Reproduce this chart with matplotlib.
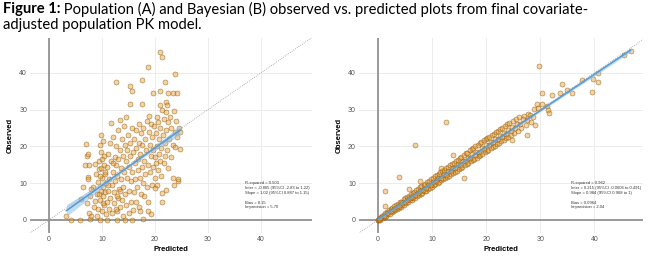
import numpy as np
import matplotlib
matplotlib.use("Agg")
import matplotlib.pyplot as plt

# ---- data ----
# panel A (population): predicted / observed
pred_a = [3.3, 4.2, 5.9, 6.0, 6.5, 6.7, 7.0, 7.1, 7.4, 7.3,
          7.4, 7.6, 7.7, 7.5, 7.2, 7.8, 8.3, 8.0, 7.9, 8.4,
          8.6, 8.8, 8.7, 9.0, 9.2, 9.1, 9.3, 9.4, 9.5, 9.6,
          9.7, 9.8, 9.9, 9.6, 9.8, 9.9, 10.0, 10.0, 10.1, 10.2,
          10.3, 10.3, 10.4, 10.5, 10.6, 10.2, 10.7, 10.8, 10.9, 11.0,
          11.0, 11.1, 11.2, 11.3, 11.4, 11.5, 11.5, 11.6, 11.7, 11.8,
          11.9, 12.0, 12.0, 12.2, 12.3, 12.4, 12.5, 12.6, 12.6, 12.7,
          12.8, 12.8, 12.9, 13.0, 13.0, 13.1, 13.2, 13.3, 13.4, 13.4,
          13.5, 13.6, 13.7, 13.8, 13.9, 14.0, 14.0, 14.1, 14.2, 14.3,
          14.3, 14.4, 14.5, 14.5, 14.6, 14.7, 14.8, 14.9, 15.0, 15.0,
          15.1, 15.2, 15.3, 15.3, 15.3, 15.4, 15.5, 15.6, 15.6, 15.7,
          15.7, 15.8, 15.9, 16.0, 16.1, 16.2, 16.3, 16.4, 16.4, 16.5,
          16.6, 16.7, 16.8, 16.9, 17.0, 17.0, 17.1, 17.2, 17.2, 17.3,
          17.4, 17.5, 17.5, 17.6, 17.6, 17.7, 17.8, 17.8, 17.9, 18.0,
          18.1, 18.2, 18.3, 18.4, 18.5, 18.6, 18.6, 18.6, 18.7, 18.8,
          18.9, 19.0, 19.1, 19.2, 19.2, 19.3, 19.4, 19.5, 19.6, 19.7,
          19.7, 19.8, 19.9, 20.0, 20.0, 20.1, 20.2, 20.3, 20.3, 20.4,
          20.5, 20.6, 20.7, 20.8, 20.9, 20.9, 20.9, 20.9, 21.0, 21.1,
          21.2, 21.3, 21.3, 21.4, 21.4, 21.5, 21.6, 21.7, 21.8, 21.8,
          21.9, 22.0, 22.0, 22.1, 22.1, 22.2, 22.3, 22.4, 22.5, 22.5,
          22.7, 22.8, 23.0, 23.1, 23.3, 23.3, 23.4, 23.5, 23.5, 23.7,
          23.8, 23.8, 24.0, 24.1, 24.2, 24.4, 24.4, 24.5, 24.7, 24.7,
          9.4, 10.1, 10.5, 11.2, 12.1, 12.7, 13.3, 10.0, 9.7, 12.9]
obs_a = [1.2, 0.1, 0.1, 5.8, 8.9, 15.0, 20.7, 17.4, 17.8, 11.8,
         11.2, 15.0, 0.2, 2.0, 4.5, 6.5, 9.0, 8.5, 1.2, 3.5,
         5.2, 12.5, 15.3, 1.0, 3.0, 7.0, 10.3, 13.8, 16.0, 0.0,
         5.5, 8.0, 18.5, 20.5, 23.0, 14.0, 11.5, 2.5, 6.5, 9.0,
         4.0, 15.0, 17.5, 7.5, 12.5, 21.5, 1.5, 10.0, 5.0, 0.1,
         14.5, 8.0, 18.0, 3.0, 11.0, 21.0, 6.0, 26.3, 16.0, 9.5,
         2.0, 13.0, 22.5, 4.5, 7.5, 17.0, 10.5, 37.6, 20.0, 15.0,
         0.1, 2.5, 12.0, 24.5, 6.0, 16.5, 8.5, 19.0, 27.2, 3.5,
         14.0, 11.0, 22.0, 5.5, 17.5, 1.0, 9.0, 25.5, 13.0, 20.5,
         0.0, 7.0, 28.1, 16.0, 4.0, 11.5, 19.0, 23.0, 2.0, 14.5,
         8.0, 17.5, 36.5, 31.5, 21.0, 10.5, 5.0, 0.0, 25.0, 35.1,
         13.0, 18.5, 2.7, 7.5, 22.0, 15.5, 11.0, 5.0, 19.5, 24.5,
         9.0, 16.5, 13.5, 21.0, 26.0, 3.5, 11.5, 2.3, 18.0, 7.0,
         23.5, 31.5, 14.5, 37.9, 20.5, 10.0, 0.2, 25.0, 16.0, 6.5,
         22.0, 12.5, 19.0, 9.0, 27.0, 41.7, 5.0, 2.3, 15.0, 24.0,
         28.3, 13.0, 20.5, 1.6, 17.5, 26.0, 9.5, 22.5, 14.5, 34.4,
         19.0, 25.5, 11.5, 8.6, 17.0, 23.5, 15.5, 9.5, 28.0, 20.0,
         13.5, 26.5, 18.0, 22.0, 45.7, 35.1, 31.3, 16.0, 25.0, 12.0,
         19.5, 29.9, 7.4, 44.4, 5.0, 23.0, 15.5, 27.5, 37.4, 21.0,
         17.5, 32.0, 8.2, 29.4, 24.5, 31.3, 19.0, 26.5, 34.4, 14.0,
         22.0, 28.0, 17.0, 25.0, 34.4, 11.3, 20.5, 29.6, 9.5, 24.0,
         39.7, 19.7, 27.0, 34.4, 22.5, 10.7, 11.2, 25.0, 19.4, 24.0,
         7.0, 4.5, 13.0, 9.5, 15.5, 3.0, 8.0, 16.5, 12.0, 6.5]

# panel B (Bayesian): predicted / observed
pred_b = [0.0, 0.0, 0.1, 0.2, 0.3, 0.5, 0.6, 0.8, 0.9, 1.0,
          1.2, 1.3, 1.5, 1.6, 1.8, 2.0, 2.1, 2.3, 2.5, 2.6,
          2.8, 3.0, 3.1, 3.3, 3.5, 3.6, 3.8, 4.0, 4.2, 4.3,
          4.5, 4.7, 4.8, 5.0, 5.2, 5.3, 5.5, 5.7, 5.9, 6.0,
          6.2, 6.4, 6.5, 6.7, 6.9, 7.0, 7.2, 7.4, 7.5, 7.7,
          7.9, 8.0, 8.2, 8.4, 8.6, 8.7, 8.9, 9.1, 9.2, 9.4,
          9.6, 9.8, 9.9, 10.1, 10.3, 10.5, 10.6, 10.8, 11.0, 11.2,
          11.3, 11.5, 11.7, 11.9, 12.0, 12.2, 12.4, 12.6, 12.8, 12.9,
          13.1, 13.3, 13.5, 13.6, 13.8, 14.0, 14.2, 14.4, 14.5, 14.7,
          14.9, 15.1, 15.3, 15.4, 15.6, 15.8, 16.0, 16.2, 16.4, 16.5,
          16.7, 16.9, 17.1, 17.3, 17.5, 17.6, 17.8, 18.0, 18.2, 18.4,
          18.6, 18.8, 18.9, 19.1, 19.3, 19.5, 19.7, 19.9, 20.1, 20.2,
          20.4, 20.6, 20.8, 21.0, 21.2, 21.4, 21.6, 21.8, 22.0, 22.2,
          22.4, 22.6, 22.8, 23.0, 23.2, 23.4, 23.6, 23.8, 24.0, 24.3,
          24.6, 24.9, 25.2, 25.5, 25.8, 26.1, 26.5, 26.9, 27.3, 27.8,
          28.3, 28.8, 29.3,
          0.4, 1.1, 1.7, 2.4, 2.9, 3.4, 3.9, 4.4, 4.9, 5.4,
          5.8, 6.3, 6.8, 7.3, 7.8, 8.3, 8.8, 9.3, 9.7, 10.2,
          10.7, 11.1, 11.6, 12.1, 12.5, 13.0, 13.4, 13.9, 14.3, 14.8,
          15.2, 15.7, 16.1, 16.6, 17.0, 17.4, 17.9, 18.3, 18.7, 19.2,
          19.6, 20.0, 20.5, 20.9, 21.3, 21.7, 22.1, 22.5, 22.9, 23.3,
          23.7, 24.1, 24.5, 24.8, 25.3, 25.7, 26.3, 26.8, 27.5, 28.1,
          28.6, 29.6, 30.4, 31.2,
          29.8, 30.3, 32.1, 33.7, 34.0, 35.0, 35.9, 37.8, 39.6, 39.8,
          40.7, 40.6, 45.4, 46.7, 12.6, 6.9, 3.8, 1.2, 1.2, 13.8,
          15.9, 7.7, 5.7, 31.5, 31.6, 29.0, 27.5, 24.7, 11.6]
obs_b = [0.0, 0.1, 0.0, 0.3, 0.1, 0.7, 0.4, 1.1, 0.6, 1.4,
         0.9, 1.8, 1.2, 2.2, 1.5, 2.6, 1.7, 2.9, 2.1, 3.2,
         2.4, 3.7, 2.6, 4.1, 3.0, 4.4, 3.3, 4.9, 3.6, 5.0,
         4.0, 5.6, 4.1, 5.9, 4.6, 6.3, 4.8, 6.6, 5.3, 7.0,
         5.4, 7.3, 5.9, 7.6, 6.0, 8.2, 6.4, 8.3, 6.8, 8.9,
         7.0, 9.1, 7.3, 9.6, 7.8, 9.9, 8.0, 10.3, 8.3, 10.6,
         8.8, 11.0, 9.0, 11.4, 9.4, 11.9, 9.7, 12.1, 10.1, 12.6,
         10.3, 12.9, 10.8, 13.4, 11.0, 13.7, 11.4, 14.2, 11.8, 14.5,
         12.0, 14.9, 12.5, 15.3, 12.7, 15.6, 13.1, 16.1, 13.4, 16.4,
         13.8, 16.9, 14.1, 17.2, 14.4, 17.6, 14.8, 18.1, 15.2, 18.3,
         15.5, 18.9, 15.9, 19.2, 16.2, 19.6, 16.6, 20.0, 16.9, 20.4,
         17.3, 20.8, 17.6, 21.1, 18.0, 21.6, 18.4, 21.9, 18.8, 22.3,
         19.1, 22.6, 19.5, 23.0, 19.9, 23.4, 20.2, 23.8, 20.6, 24.2,
         21.0, 24.7, 21.4, 25.1, 21.8, 25.5, 22.2, 26.0, 22.5, 26.4,
         23.1, 26.9, 23.6, 27.4, 24.3, 27.9, 25.0, 28.3, 25.8, 28.9,
         26.6, 30.1, 31.6,
         0.5, 1.0, 1.8, 2.3, 3.0, 3.5, 3.8, 4.6, 5.0, 5.3,
         6.0, 6.2, 6.9, 7.2, 8.0, 8.2, 8.7, 9.5, 9.6, 10.4,
         10.6, 11.3, 11.5, 12.4, 12.3, 13.2, 13.3, 14.2, 14.1, 15.1,
         15.0, 16.0, 15.9, 16.9, 16.8, 17.8, 17.7, 18.6, 18.5, 19.6,
         19.4, 20.4, 20.3, 21.3, 21.1, 22.1, 21.9, 22.9, 22.6, 23.7,
         23.4, 24.5, 24.2, 25.3, 25.0, 26.2, 26.0, 27.4, 27.1, 28.6,
         27.9, 30.3, 31.5, 30.9,
         41.9, 34.6, 34.0, 34.4, 36.9, 35.3, 34.6, 38.0, 34.9, 38.2,
         37.6, 40.0, 44.7, 46.0, 26.5, 20.4, 11.8, 7.9, 3.8, 17.7,
         11.5, 10.6, 8.3, 29.9, 29.0, 25.8, 23.1, 21.7, 14.0]

# fit results printed on the panels (estimate, 95% CI)
inter_a, inter_ci_a = -0.805, (-2.83, 1.22)
slope_a, slope_ci_a = 1.02, (0.887, 1.15)
inter_b, inter_ci_b = 0.215, (-0.0606, 0.491)
slope_b, slope_ci_b = 0.984, (0.968, 1.0)
stats_a = ["R-squared = 0.503",
           "Inter = -0.805 (95%CI -2.83 to 1.22)",
           "Slope = 1.02 (95%CI 0.887 to 1.15)",
           "",
           "Bias = 8.15",
           "Imprecision = 5.70"]
stats_b = ["R-squared = 0.962",
           "Inter = 0.215 (95%CI -0.0606 to 0.491)",
           "Slope = 0.984 (95%CI 0.968 to 1)",
           "",
           "Bias = 0.0964",
           "Imprecision = 2.04"]
ticks = [0, 10, 20, 30, 40]

plt.rcParams['font.family'] = ['Liberation Sans', 'DejaVu Sans']

W, H = 649, 259
fig = plt.figure(figsize=(W / 100, H / 100), dpi=100)


def panel(rect, xs, ys, inter, inter_ci, slope, slope_ci, stats, xmax, text_x):
    l, r, t, b = rect
    ax = fig.add_axes([l / W, 1 - b / H, (r - l) / W, (b - t) / H])
    xs = np.asarray(xs)
    ys = np.asarray(ys)
    lo = -3.6
    ax.set_xlim(lo, xmax)
    ax.set_ylim(lo, 49.5)
    for s in ax.spines.values():
        s.set_visible(False)
    ax.set_xticks(ticks)
    ax.set_yticks(ticks)
    ax.grid(True, color='#ececec', lw=0.7)
    ax.set_axisbelow(True)
    ax.tick_params(length=0, labelsize=5, colors='#555555', pad=2)
    ax.axhline(0, color='#8a8a8a', lw=1.2, zorder=1)
    ax.axvline(0, color='#8a8a8a', lw=1.2, zorder=1)
    # identity line
    ax.plot([lo, 60], [lo, 60], ls=(0, (1, 1.5)), color='#9a9a9a', lw=0.6, zorder=2)
    ax.scatter(xs, ys, s=13, facecolor=(0.93, 0.62, 0.18, 0.45),
               edgecolor=(0.50, 0.30, 0.02, 0.7), linewidths=0.4, zorder=3)
    # regression line + 95% band rebuilt from the printed CIs
    se_i = (inter_ci[1] - inter_ci[0]) / 2 / 1.96
    se_s = (slope_ci[1] - slope_ci[0]) / 2 / 1.96
    xbar = xs.mean()
    var0 = max(se_i ** 2 - (xbar * se_s) ** 2, 0.01)
    xx = np.linspace(xs.min(), xs.max(), 100)
    yy = inter + slope * xx
    se = np.sqrt(var0 + ((xx - xbar) * se_s) ** 2)
    ax.fill_between(xx, yy - 1.96 * se, yy + 1.96 * se, color='#8fc0ea', alpha=0.55, lw=0, zorder=4)
    ax.plot(xx, yy, color='#5b9bd5', lw=1.2, zorder=5)
    ax.text(text_x, 10.6, "\n".join(stats), fontsize=3.0, color='#333333',
            va='top', ha='left', linespacing=1.3, zorder=6)
    ax.set_xlabel("Predicted", fontsize=5.5, fontweight='bold', labelpad=2)
    ax.set_ylabel("Observed", fontsize=5.5, fontweight='bold', labelpad=4)
    return ax


panel((29.9, 312, 37.8, 233.2), pred_a, obs_a, inter_a, inter_ci_a, slope_a, slope_ci_a,
      stats_a, 49.6, 37.0)
panel((358.7, 643, 37.8, 233.2), pred_b, obs_b, inter_b, inter_ci_b, slope_b, slope_ci_b,
      stats_b, 49.0, 35.6)

# caption: bold lead-in followed by the plain text, fitted to the reference width
cap_font = ['Lato', 'DejaVu Sans']
fs = 10
bold_txt = "Figure 1:"
rest_txt = " Population (A) and Bayesian (B) observed vs. predicted plots from final covariate-"
renderer = fig.canvas.get_renderer()
t1 = fig.text(3 / W, 1 - 9 / H, bold_txt, fontsize=fs, fontweight='bold', va='center', ha='left', family=cap_font)
t2 = fig.text(0, 1 - 9 / H, rest_txt, fontsize=fs, va='center', ha='left', family=cap_font)
w_total = t1.get_window_extent(renderer).width + t2.get_window_extent(renderer).width
fs = fs * 584 / w_total
t1.set_fontsize(fs)
t2.set_fontsize(fs)
x2 = 3 + t1.get_window_extent(renderer).width
t2.set_x(x2 / W)
fig.text(3 / W, 1 - 25 / H, "adjusted population PK model.", fontsize=fs, va='center', ha='left', family=cap_font)

fig.savefig("out.png", dpi=100)
